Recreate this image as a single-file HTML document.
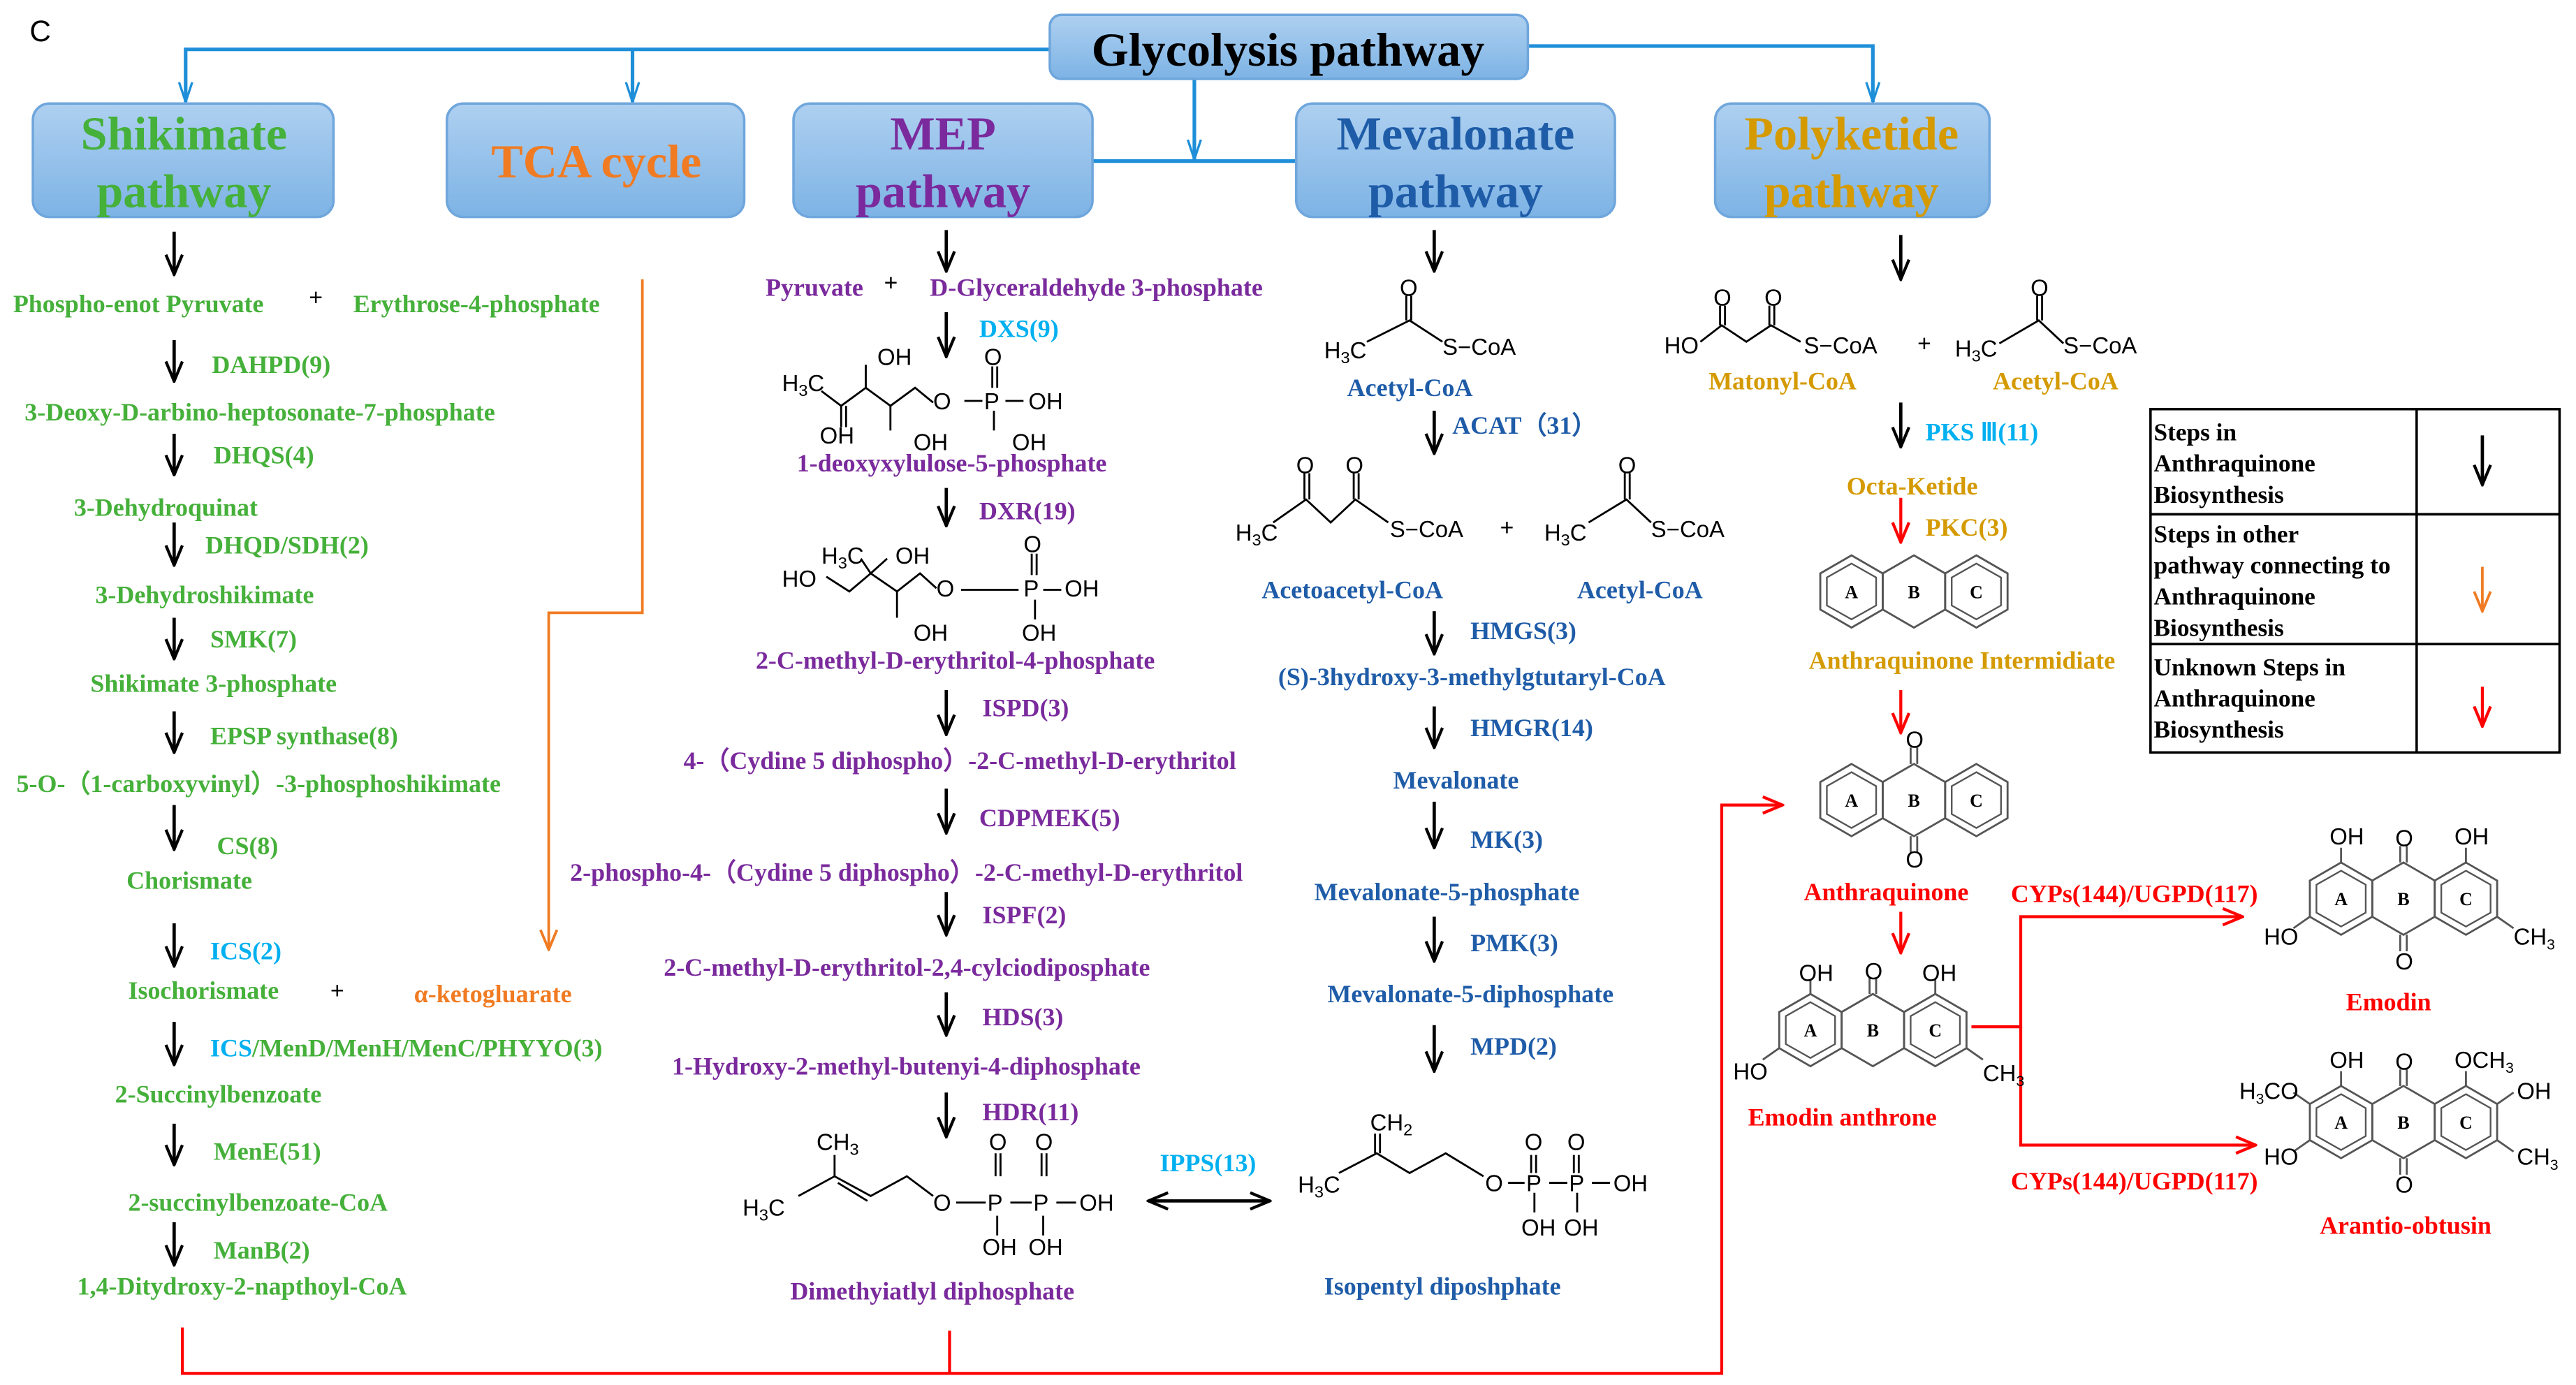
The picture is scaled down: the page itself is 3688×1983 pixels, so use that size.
<!DOCTYPE html>
<html><head><meta charset="utf-8"><style>
html,body{margin:0;padding:0;background:#fff;}
svg{display:block;}
text{font-family:"Liberation Serif",serif;font-weight:bold;}
.g{fill:#45b03a;font-size:15.3px}
.p{fill:#7a2a9c;font-size:15.3px}
.b{fill:#1f5ca8;font-size:15.3px}
.o{fill:#d49a00;font-size:15.3px}
.c{fill:#00b0f0;font-size:15.3px}
.r{fill:#ff0000;font-size:15.3px}
.k{fill:#000;font-size:15px}
.ch{font-family:"Liberation Sans",sans-serif;font-weight:normal;fill:#000;font-size:14px}
.t{font-size:29px}
</style></head><body>
<svg width="3688" height="1983" viewBox="0 0 1568 843" xmlns="http://www.w3.org/2000/svg">
<defs>
<linearGradient id="bg" x1="0" y1="0" x2="0" y2="1"><stop offset="0" stop-color="#aed0f0"/><stop offset="1" stop-color="#7db3e5"/></linearGradient>
<marker id="ak" markerWidth="14" markerHeight="12" refX="13" refY="6" orient="auto-start-reverse" markerUnits="userSpaceOnUse" viewBox="0 0 14 12"><path d="M1,1 L13,6 L1,11" fill="none" stroke="#000" stroke-width="1.8"/></marker>
<marker id="ar" markerWidth="14" markerHeight="12" refX="13" refY="6" orient="auto" markerUnits="userSpaceOnUse" viewBox="0 0 14 12"><path d="M1,1 L13,6 L1,11" fill="none" stroke="#f00" stroke-width="1.8"/></marker>
<marker id="ao" markerWidth="14" markerHeight="12" refX="13" refY="6" orient="auto" markerUnits="userSpaceOnUse" viewBox="0 0 14 12"><path d="M1,1 L13,6 L1,11" fill="none" stroke="#f07b22" stroke-width="1.6"/></marker>
<marker id="ab" markerWidth="14" markerHeight="10" refX="13" refY="5" orient="auto" markerUnits="userSpaceOnUse" viewBox="0 0 14 10"><path d="M1,1 L13,5 L1,9" fill="none" stroke="#1e8fd8" stroke-width="1.4"/></marker>
<g id="hex"><polygon points="0,-22 19,-11 19,11 0,22 -19,11 -19,-11" fill="none" stroke="#555" stroke-width="1.2"/></g>
<g id="hexi"><polygon points="0,-22 19,-11 19,11 0,22 -19,11 -19,-11" fill="none" stroke="#555" stroke-width="1.2"/><polygon points="0,-17 15,-8.5 15,8.5 0,17 -15,8.5 -15,-8.5" fill="none" stroke="#555" stroke-width="1"/></g>
</defs>
<rect width="1568" height="843" fill="#fff"/>
<text x="18" y="25" style="font-family:'Liberation Sans',sans-serif;font-weight:normal;font-size:18px">C</text>

<g stroke="#1e8fd8" stroke-width="2.2" fill="none">
<path d="M639,30 H113 V62" marker-end="url(#ab)"/>
<path d="M385,30 V62" marker-end="url(#ab)"/>
<path d="M727,48 V97" marker-end="url(#ab)"/>
<path d="M665,98 H789"/>
<path d="M930,28 H1140 V62" marker-end="url(#ab)"/>
</g>
<g stroke="#6fa6dc" stroke-width="1.5" fill="url(#bg)">
<rect x="639" y="9" width="291" height="39" rx="7"/>
<rect x="20" y="63" width="183" height="69" rx="10"/>
<rect x="272" y="63" width="181" height="69" rx="10"/>
<rect x="483" y="63" width="182" height="69" rx="10"/>
<rect x="789" y="63" width="194" height="69" rx="10"/>
<rect x="1044" y="63" width="167" height="69" rx="10"/>
</g>
<text x="784" y="40" text-anchor="middle" class="t" fill="#000">Glycolysis pathway</text>
<text x="112" y="91" text-anchor="middle" class="t" fill="#45b03a">Shikimate</text>
<text x="112" y="126" text-anchor="middle" class="t" fill="#45b03a">pathway</text>
<text x="363" y="108" text-anchor="middle" class="t" fill="#f07b22">TCA cycle</text>
<text x="574" y="91" text-anchor="middle" class="t" fill="#7a2a9c">MEP</text>
<text x="574" y="126" text-anchor="middle" class="t" fill="#7a2a9c">pathway</text>
<text x="886" y="91" text-anchor="middle" class="t" fill="#1f5ca8">Mevalonate</text>
<text x="886" y="126" text-anchor="middle" class="t" fill="#1f5ca8">pathway</text>
<text x="1127" y="91" text-anchor="middle" class="t" fill="#d49a00">Polyketide</text>
<text x="1127" y="126" text-anchor="middle" class="t" fill="#d49a00">pathway</text>

<g stroke="#000" stroke-width="2" fill="none" marker-end="url(#ak)">
<path d="M106,141 V167"/><path d="M106,207 V232"/><path d="M106,264 V289"/><path d="M106,318 V344"/><path d="M106,376 V401"/><path d="M106,433 V458"/><path d="M106,490 V517"/><path d="M106,562 V588"/><path d="M106,622 V648"/><path d="M106,684 V709"/><path d="M106,744 V770"/>
<path d="M576,140 V165"/><path d="M576,190 V217"/><path d="M576,297 V320"/><path d="M576,420 V447"/><path d="M576,480 V507"/><path d="M576,543 V569"/><path d="M576,604 V630"/><path d="M576,665 V692"/>
<path d="M873,140 V165"/><path d="M873,250 V276"/><path d="M873,372 V398"/><path d="M873,430 V455"/><path d="M873,488 V516"/><path d="M873,558 V585"/><path d="M873,624 V652"/>
<path d="M1157,143 V170"/><path d="M1157,245 V272"/>
<path d="M1511,265 V295"/>
</g>
<path d="M699,731 H773" stroke="#000" stroke-width="2" fill="none" marker-start="url(#ak)" marker-end="url(#ak)"/>
<g stroke="#f00" stroke-width="1.8" fill="none">
<path d="M1157,303 V330" marker-end="url(#ar)"/><path d="M1157,420 V446" marker-end="url(#ar)"/><path d="M1157,555 V580" marker-end="url(#ar)"/><path d="M1511,418 V442" marker-end="url(#ar)"/>
<path d="M1200,625 H1230 V558 H1365" marker-end="url(#ar)"/>
<path d="M1230,625 V697 H1373" marker-end="url(#ar)"/>
<path d="M111,808 V836 H1048 V490 H1085" marker-end="url(#ar)"/>
</g>
<path d="M578,810 V836" stroke="#f00" stroke-width="1.8"/>
<path d="M391,170 V373 H334 V578" stroke="#f07b22" stroke-width="1.6" fill="none" marker-end="url(#ao)"/>
<path d="M1511,345 V372" stroke="#f07b22" stroke-width="1.6" fill="none" marker-end="url(#ao)"/>

<text class="g" x="8" y="190">Phospho-enot Pyruvate</text><text class="k" x="188" y="186">+</text><text class="g" x="215" y="190">Erythrose-4-phosphate</text>
<text class="g" x="129" y="227">DAHPD(9)</text>
<text class="g" x="15" y="256">3-Deoxy-D-arbino-heptosonate-7-phosphate</text>
<text class="g" x="130" y="282">DHQS(4)</text>
<text class="g" x="45" y="314">3-Dehydroquinat</text>
<text class="g" x="125" y="337">DHQD/SDH(2)</text>
<text class="g" x="58" y="367">3-Dehydroshikimate</text>
<text class="g" x="128" y="394">SMK(7)</text>
<text class="g" x="55" y="421">Shikimate 3-phosphate</text>
<text class="g" x="128" y="453">EPSP synthase(8)</text>
<text class="g" x="10" y="482">5-O-（1-carboxyvinyl）-3-phosphoshikimate</text>
<text class="g" x="132" y="520">CS(8)</text>
<text class="g" x="77" y="541">Chorismate</text>
<text class="c" x="128" y="584">ICS(2)</text>
<text class="g" x="78" y="608">Isochorismate</text><text class="k" x="201" y="608">+</text><text style="fill:#f07b22;font-size:15.3px" x="252" y="610">α-ketogluarate</text>
<text class="g" x="128" y="643"><tspan style="fill:#00b0f0">ICS</tspan>/MenD/MenH/MenC/PHYYO(3)</text>
<text class="g" x="70" y="671">2-Succinylbenzoate</text>
<text class="g" x="130" y="706">MenE(51)</text>
<text class="g" x="78" y="737">2-succinylbenzoate-CoA</text>
<text class="g" x="130" y="766">ManB(2)</text>
<text class="g" x="47" y="788">1,4-Ditydroxy-2-napthoyl-CoA</text>

<text class="p" x="466" y="180">Pyruvate</text><text class="k" x="538" y="177">+</text><text class="p" x="566" y="180">D-Glyceraldehyde 3-phosphate</text>
<text class="c" x="596" y="205">DXS(9)</text>
<g stroke="#000" stroke-width="1.2" fill="none">
<path d="M500,238 L512,247 L527,236 L542,247 L557,236 L568,245"/>
<path d="M512,247 V260 M515,247 V260"/><path d="M527,236 V222"/><path d="M542,247 V262"/>
<path d="M604,223 V236 M607,223 V236"/><path d="M605,250 V262"/><path d="M587,244 H598 M612,244 H623"/>
</g>
<text class="ch" x="476" y="238">H<tspan font-size="10" dy="3">3</tspan><tspan dy="-3">C</tspan></text>
<text class="ch" x="534" y="222">OH</text><text class="ch" x="599" y="222">O</text>
<text class="ch" x="568" y="249">O</text><text class="ch" x="599" y="249">P</text><text class="ch" x="626" y="249">OH</text>
<text class="ch" x="499" y="270">OH</text><text class="ch" x="556" y="274">OH</text><text class="ch" x="616" y="274">OH</text>
<text class="p" x="485" y="287">1-deoxyxylulose-5-phosphate</text>
<text class="p" x="596" y="316">DXR(19)</text>
<g stroke="#000" stroke-width="1.2" fill="none">
<path d="M503,351 L517,360 L530,349 L546,360 L560,349 L570,358"/>
<path d="M530,349 L524,340"/><path d="M530,349 L540,340"/><path d="M546,360 V376"/>
<path d="M628,337 V350 M631,337 V350"/><path d="M630,365 V377"/><path d="M585,359 H620 M635,359 H646"/>
</g>
<text class="ch" x="500" y="343">H<tspan font-size="10" dy="3">3</tspan><tspan dy="-3">C</tspan></text><text class="ch" x="545" y="343">OH</text>
<text class="ch" x="476" y="357">HO</text><text class="ch" x="570" y="363">O</text><text class="ch" x="623" y="336">O</text>
<text class="ch" x="623" y="363">P</text><text class="ch" x="648" y="363">OH</text>
<text class="ch" x="556" y="390">OH</text><text class="ch" x="622" y="390">OH</text>
<text class="p" x="460" y="407">2-C-methyl-D-erythritol-4-phosphate</text>
<text class="p" x="598" y="436">ISPD(3)</text>
<text class="p" x="416" y="468">4-（Cydine 5 diphospho）-2-C-methyl-D-erythritol</text>
<text class="p" x="596" y="503">CDPMEK(5)</text>
<text class="p" x="347" y="536">2-phospho-4-（Cydine 5 diphospho）-2-C-methyl-D-erythritol</text>
<text class="p" x="598" y="562">ISPF(2)</text>
<text class="p" x="404" y="594">2-C-methyl-D-erythritol-2,4-cylciodiposphate</text>
<text class="p" x="598" y="624">HDS(3)</text>
<text class="p" x="409" y="654">1-Hydroxy-2-methyl-butenyi-4-diphosphate</text>
<text class="p" x="598" y="682">HDR(11)</text>
<g stroke="#000" stroke-width="1.2" fill="none">
<path d="M486,728 L508,716 L530,728 L552,716 L568,728"/><path d="M508,716 V703"/><path d="M510,720 L528,731"/>
<path d="M606,702 V716 M609,702 V716 M634,702 V716 M637,702 V716"/><path d="M607,740 V752 M635,740 V752"/>
<path d="M582,732 H600 M615,732 H628 M643,732 H655"/>
</g>
<text class="ch" x="497" y="700">CH<tspan font-size="10" dy="3">3</tspan></text>
<text class="ch" x="452" y="740">H<tspan font-size="10" dy="3">3</tspan><tspan dy="-3">C</tspan></text>
<text class="ch" x="568" y="737">O</text><text class="ch" x="601" y="737">P</text><text class="ch" x="629" y="737">P</text><text class="ch" x="657" y="737">OH</text>
<text class="ch" x="602" y="700">O</text><text class="ch" x="630" y="700">O</text>
<text class="ch" x="598" y="764">OH</text><text class="ch" x="626" y="764">OH</text>
<text class="p" x="481" y="791">Dimethyiatlyl diphosphate</text>
<text class="c" x="706" y="713">IPPS(13)</text>

<g stroke="#000" stroke-width="1.2" fill="none">
<path d="M832,208 L858,195 L878,208"/><path d="M856,195 V180 M859,195 V180"/>
<path d="M775,318 L795,304 L810,318 L825,304 L845,318"/><path d="M794,304 V288 M797,304 V288 M824,304 V288 M827,304 V288"/>
<path d="M967,318 L990,304 L1005,318"/><path d="M989,304 V288 M992,304 V288"/>
<path d="M1035,208 L1048,198 L1063,208 L1078,198 L1096,208"/><path d="M1047,198 V186 M1050,198 V186 M1077,198 V186 M1080,198 V186"/>
<path d="M1217,209 L1241,195 L1256,209"/><path d="M1240,195 V180 M1243,195 V180"/>
<path d="M815,714 L838,702 L858,714 L880,702 L903,716"/><path d="M837,702 V690 M840,702 V690"/>
<path d="M918,720 H928 M943,720 H954 M969,720 H980"/><path d="M932,703 V714 M935,703 V714 M958,703 V714 M961,703 V714"/><path d="M934,726 V738 M960,726 V738"/>
</g>
<text class="ch" x="852" y="180">O</text>
<text class="ch" x="806" y="218">H<tspan font-size="10" dy="3">3</tspan><tspan dy="-3">C</tspan></text><text class="ch" x="878" y="216">S−CoA</text>
<text class="b" x="820" y="241">Acetyl-CoA</text>
<text class="b" x="884" y="264">ACAT（31）</text>
<text class="ch" x="789" y="288">O</text><text class="ch" x="819" y="288">O</text><text class="ch" x="985" y="288">O</text>
<text class="ch" x="752" y="329">H<tspan font-size="10" dy="3">3</tspan><tspan dy="-3">C</tspan></text><text class="ch" x="846" y="327">S−CoA</text>
<text class="k" x="913" y="326">+</text>
<text class="ch" x="940" y="329">H<tspan font-size="10" dy="3">3</tspan><tspan dy="-3">C</tspan></text><text class="ch" x="1005" y="327">S−CoA</text>
<text class="b" x="768" y="364">Acetoacetyl-CoA</text><text class="b" x="960" y="364">Acetyl-CoA</text>
<text class="b" x="895" y="389">HMGS(3)</text>
<text class="b" x="778" y="417">(S)-3hydroxy-3-methylgtutaryl-CoA</text>
<text class="b" x="895" y="448">HMGR(14)</text>
<text class="b" x="848" y="480">Mevalonate</text>
<text class="b" x="895" y="516">MK(3)</text>
<text class="b" x="800" y="548">Mevalonate-5-phosphate</text>
<text class="b" x="895" y="579">PMK(3)</text>
<text class="b" x="808" y="610">Mevalonate-5-diphosphate</text>
<text class="b" x="895" y="642">MPD(2)</text>
<text class="ch" x="834" y="688">CH<tspan font-size="10" dy="3">2</tspan></text>
<text class="ch" x="790" y="726">H<tspan font-size="10" dy="3">3</tspan><tspan dy="-3">C</tspan></text>
<text class="ch" x="904" y="725">O</text><text class="ch" x="929" y="725">P</text><text class="ch" x="955" y="725">P</text><text class="ch" x="982" y="725">OH</text>
<text class="ch" x="928" y="700">O</text><text class="ch" x="954" y="700">O</text>
<text class="ch" x="926" y="752">OH</text><text class="ch" x="952" y="752">OH</text>
<text class="b" x="806" y="788">Isopentyl diposhphate</text>

<text class="ch" x="1043" y="186">O</text><text class="ch" x="1074" y="186">O</text><text class="ch" x="1236" y="180">O</text>
<text class="ch" x="1013" y="215">HO</text><text class="ch" x="1098" y="215">S−CoA</text>
<text class="k" x="1167" y="214">+</text>
<text class="ch" x="1190" y="217">H<tspan font-size="10" dy="3">3</tspan><tspan dy="-3">C</tspan></text><text class="ch" x="1256" y="215">S−CoA</text>
<text class="o" x="1040" y="237">Matonyl-CoA</text><text class="o" x="1213" y="237">Acetyl-CoA</text>
<text class="c" x="1172" y="268">PKS Ⅲ(11)</text>
<text class="o" x="1124" y="301">Octa-Ketide</text>
<text class="o" x="1172" y="326">PKC(3)</text>
<use href="#hexi" x="1127" y="360"/><use href="#hex" x="1165" y="360"/><use href="#hexi" x="1203" y="360"/>
<g style="font-family:'Liberation Serif',serif;font-weight:normal;font-size:11px" text-anchor="middle">
<text x="1127" y="364">A</text><text x="1165" y="364">B</text><text x="1203" y="364">C</text>
<text x="1127" y="491">A</text><text x="1165" y="491">B</text><text x="1203" y="491">C</text>
<text x="1102" y="631">A</text><text x="1140" y="631">B</text><text x="1178" y="631">C</text>
<text x="1425" y="551">A</text><text x="1463" y="551">B</text><text x="1501" y="551">C</text>
<text x="1425" y="687">A</text><text x="1463" y="687">B</text><text x="1501" y="687">C</text>
</g>
<text class="o" x="1101" y="407">Anthraquinone Intermidiate</text>
<use href="#hexi" x="1127" y="487"/><use href="#hex" x="1165" y="487"/><use href="#hexi" x="1203" y="487"/>
<g stroke="#555" stroke-width="1.2"><path d="M1163,465 V455 M1167,465 V455 M1163,509 V519 M1167,509 V519"/></g>
<text class="ch" x="1160" y="455" font-size="11">O</text><text class="ch" x="1160" y="528" font-size="11">O</text>
<text class="r" x="1098" y="548">Anthraquinone</text>
<use href="#hexi" x="1102" y="627"/><use href="#hex" x="1140" y="627"/><use href="#hexi" x="1178" y="627"/>
<g stroke="#555" stroke-width="1.2"><path d="M1138,605 V595 M1142,605 V595 M1102,605 V596 M1178,605 V596 M1083,638 L1073,645 M1197,638 L1207,645"/></g>
<text class="ch" x="1135" y="596" font-size="12">O</text><text class="ch" x="1095" y="597" font-size="12">OH</text><text class="ch" x="1170" y="597" font-size="12">OH</text>
<text class="ch" x="1055" y="657" font-size="12">HO</text><text class="ch" x="1207" y="658" font-size="12">CH<tspan font-size="9" dy="3">3</tspan></text>
<text class="r" x="1064" y="685">Emodin anthrone</text>
<text class="r" x="1224" y="549">CYPs(144)/UGPD(117)</text>
<text class="r" x="1224" y="724">CYPs(144)/UGPD(117)</text>
<use href="#hexi" x="1425" y="547"/><use href="#hex" x="1463" y="547"/><use href="#hexi" x="1501" y="547"/>
<g stroke="#555" stroke-width="1.2"><path d="M1461,525 V515 M1465,525 V515 M1461,569 V579 M1465,569 V579 M1425,525 V516 M1501,525 V516 M1406,558 L1396,565 M1520,558 L1530,565"/></g>
<text class="ch" x="1458" y="515" font-size="12">O</text><text class="ch" x="1458" y="590" font-size="12">O</text>
<text class="ch" x="1418" y="514" font-size="12">OH</text><text class="ch" x="1494" y="514" font-size="12">OH</text>
<text class="ch" x="1378" y="575" font-size="12">HO</text><text class="ch" x="1530" y="575" font-size="12">CH<tspan font-size="9" dy="3">3</tspan></text>
<text class="r" x="1428" y="615">Emodin</text>
<use href="#hexi" x="1425" y="683"/><use href="#hex" x="1463" y="683"/><use href="#hexi" x="1501" y="683"/>
<g stroke="#555" stroke-width="1.2"><path d="M1461,661 V651 M1465,661 V651 M1461,705 V715 M1465,705 V715 M1425,661 V652 M1501,661 V652 M1406,672 L1396,665 M1406,694 L1396,701 M1520,672 L1530,665 M1520,694 L1530,701"/></g>
<text class="ch" x="1458" y="651" font-size="12">O</text><text class="ch" x="1458" y="726" font-size="12">O</text>
<text class="ch" x="1418" y="650" font-size="12">OH</text><text class="ch" x="1494" y="650" font-size="12">OCH<tspan font-size="9" dy="3">3</tspan></text>
<text class="ch" x="1363" y="669" font-size="12">H<tspan font-size="9" dy="3">3</tspan><tspan dy="-3">CO</tspan></text>
<text class="ch" x="1378" y="709" font-size="12">HO</text><text class="ch" x="1532" y="669" font-size="12">OH</text><text class="ch" x="1532" y="709" font-size="12">CH<tspan font-size="9" dy="3">3</tspan></text>
<text class="r" x="1412" y="751">Arantio-obtusin</text>

<g stroke="#000" stroke-width="1.5" fill="none">
<rect x="1309" y="249" width="249" height="209"/>
<path d="M1471,249 V458 M1309,313 H1558 M1309,392 H1558"/>
</g>
<text x="1311" y="268" class="k">Steps in</text><text x="1311" y="287" class="k">Anthraquinone</text><text x="1311" y="306" class="k">Biosynthesis</text>
<text x="1311" y="330" class="k">Steps in other</text><text x="1311" y="349" class="k">pathway connecting to</text><text x="1311" y="368" class="k">Anthraquinone</text><text x="1311" y="387" class="k">Biosynthesis</text>
<text x="1311" y="411" class="k">Unknown Steps in</text><text x="1311" y="430" class="k">Anthraquinone</text><text x="1311" y="449" class="k">Biosynthesis</text>
</svg>
</body></html>
